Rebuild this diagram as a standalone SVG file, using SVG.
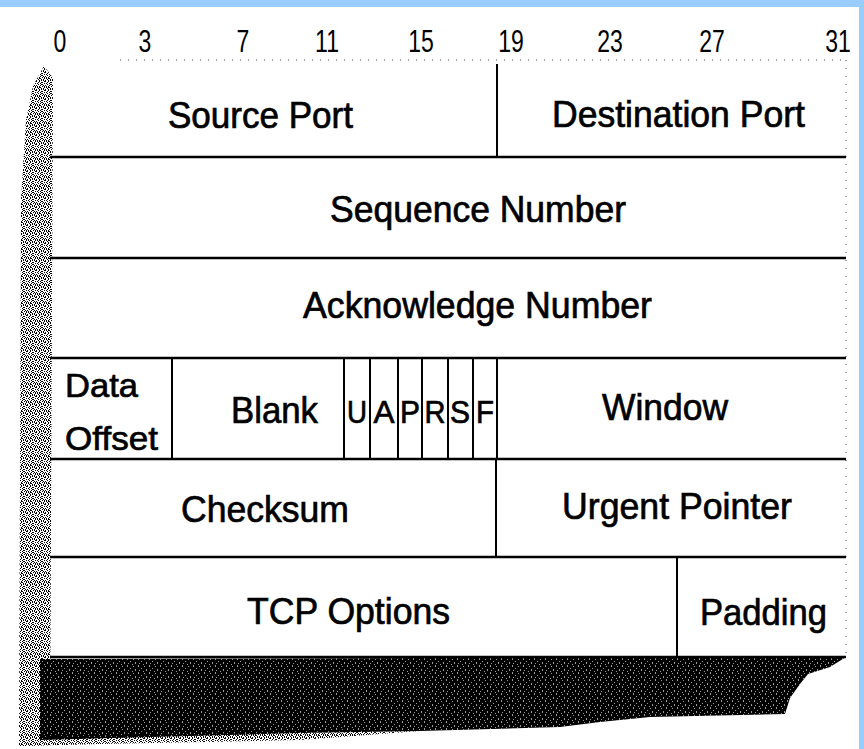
<svg xmlns="http://www.w3.org/2000/svg" width="864" height="749" viewBox="0 0 864 749">
<style>
.lbl{font-family:"Liberation Sans",Arial,sans-serif;font-size:37px;fill:#000;stroke:#000;stroke-width:0.7px}
.flag{font-family:"Liberation Sans",Arial,sans-serif;font-size:31px;fill:#000;stroke:#000;stroke-width:0.7px;text-anchor:middle}
.num{font-family:"Liberation Sans",Arial,sans-serif;font-size:32px;fill:#000;text-anchor:middle}
.ln{stroke:#000;stroke-width:2.5;fill:none}
.vl{stroke:#000;stroke-width:2;fill:none}
</style>
<defs>
<pattern id="stip" width="9" height="9" patternUnits="userSpaceOnUse">
<path fill="#000" d="M0 0h1v1H0zM3 0h1v1H3zM8 0h1v1H8zM6 1h1v1H6zM2 1h1v1H2zM1 2h1v1H1zM4 2h1v1H4zM8 2h1v1H8zM2 3h1v1H2zM5 3h1v1H5zM6 3h1v1H6zM0 4h1v1H0zM4 4h1v1H4zM7 4h1v1H7zM1 5h1v1H1zM3 5h1v1H3zM6 5h1v1H6zM8 5h1v1H8zM1 6h1v1H1zM4 6h1v1H4zM8 6h1v1H8zM2 7h1v1H2zM5 7h1v1H5zM7 7h1v1H7zM0 8h1v1H0zM3 8h1v1H3zM5 8h1v1H5zM7 8h1v1H7zM5 1h1v1H5zM3 6h1v1H3z"/>
</pattern>
<pattern id="speck" width="11" height="7" patternUnits="userSpaceOnUse">
<path fill="#fff" d="M1 1h1v1H1zM6 0h1v2H6zM9 3h1v1H9zM3 4h1v2H3zM7 5h1v1H7zM0 6h1v1H0z"/>
</pattern>
</defs>
<rect width="864" height="749" fill="#fff"/>
<rect x="0" y="0" width="864" height="7" fill="#99ccff"/>
<rect x="859" y="0" width="5" height="749" fill="#99ccff"/>

<g id="bit-numbers">
<text class="num" transform="translate(60,52) scale(0.72,1)">0</text>
<text class="num" transform="translate(145,52) scale(0.72,1)">3</text>
<text class="num" transform="translate(243,52) scale(0.72,1)">7</text>
<text class="num" transform="translate(327,52) scale(0.72,1)">11</text>
<text class="num" transform="translate(421,52) scale(0.72,1)">15</text>
<text class="num" transform="translate(511,52) scale(0.72,1)">19</text>
<text class="num" transform="translate(610,52) scale(0.72,1)">23</text>
<text class="num" transform="translate(712,52) scale(0.72,1)">27</text>
<text class="num" transform="translate(838,52) scale(0.72,1)">31</text>
</g>

<g id="shadow">
<polygon points="44,66 53,78 50,745 19,746 21,200 26,120 33,86" fill="url(#stip)"/>
<polygon points="40,659 846,657 830,667 808,674 800,684 790,698 785,714 650,717 600,722 560,727 420,731 300,733 150,737 40,740" fill="#000"/>
<polygon points="40,659 846,657 830,667 808,674 800,684 790,698 785,714 650,717 600,722 560,727 420,731 300,733 150,737 40,740" fill="url(#speck)" opacity="0.6"/>
<polygon points="20,735 300,733 420,731 300,740 100,744 20,746" fill="url(#stip)"/>
</g>

<g id="grid">
<line x1="120" y1="60" x2="846" y2="60" stroke="#444" stroke-width="1" stroke-dasharray="1 7"/>
<line x1="846" y1="60" x2="846" y2="657" stroke="#444" stroke-width="1" stroke-dasharray="1 7"/>
<line class="ln" x1="50" y1="157" x2="846" y2="157"/>
<line class="ln" x1="50" y1="258" x2="846" y2="258"/>
<line class="ln" x1="50" y1="358" x2="846" y2="358"/>
<line class="ln" x1="50" y1="459" x2="846" y2="459"/>
<line class="ln" x1="50" y1="557" x2="846" y2="557"/>
<line class="ln" x1="50" y1="657" x2="846" y2="657"/>
<line class="vl" x1="497" y1="64" x2="497" y2="157"/>
<line class="vl" x1="172" y1="358" x2="172" y2="459"/>
<line class="vl" x1="344" y1="358" x2="344" y2="459"/>
<line class="vl" x1="370" y1="358" x2="370" y2="459"/>
<line class="vl" x1="398" y1="358" x2="398" y2="459"/>
<line class="vl" x1="422" y1="358" x2="422" y2="459"/>
<line class="vl" x1="448" y1="358" x2="448" y2="459"/>
<line class="vl" x1="473" y1="358" x2="473" y2="459"/>
<line class="vl" x1="497" y1="358" x2="497" y2="459"/>
<line class="vl" x1="496" y1="459" x2="496" y2="557"/>
<line class="vl" x1="677" y1="557" x2="677" y2="657"/>
</g>
<g id="connectors"/>

<g id="source-port"><text class="lbl" x="168" y="128" textLength="185" lengthAdjust="spacingAndGlyphs">Source Port</text></g>
<g id="destination-port"><text class="lbl" x="552" y="127" textLength="253" lengthAdjust="spacingAndGlyphs">Destination Port</text></g>
<g id="sequence-number"><text class="lbl" x="330" y="222" textLength="296" lengthAdjust="spacingAndGlyphs">Sequence Number</text></g>
<g id="acknowledge-number"><text class="lbl" x="303" y="318" textLength="349" lengthAdjust="spacingAndGlyphs">Acknowledge Number</text></g>
<g id="data-offset">
<text class="lbl" x="65" y="397" textLength="73" lengthAdjust="spacingAndGlyphs" style="font-size:34px">Data</text>
<text class="lbl" x="65" y="450" textLength="93" lengthAdjust="spacingAndGlyphs" style="font-size:34px">Offset</text>
</g>
<g id="blank"><text class="lbl" x="231" y="423" textLength="87" lengthAdjust="spacingAndGlyphs">Blank</text></g>
<g id="flag-u"><text class="flag" x="357" y="423" textLength="20" lengthAdjust="spacingAndGlyphs">U</text></g>
<g id="flag-a"><text class="flag" x="384" y="423" textLength="21" lengthAdjust="spacingAndGlyphs">A</text></g>
<g id="flag-p"><text class="flag" x="410" y="423" textLength="20" lengthAdjust="spacingAndGlyphs">P</text></g>
<g id="flag-r"><text class="flag" x="435" y="423" textLength="21" lengthAdjust="spacingAndGlyphs">R</text></g>
<g id="flag-s"><text class="flag" x="460" y="423" textLength="20" lengthAdjust="spacingAndGlyphs">S</text></g>
<g id="flag-f"><text class="flag" x="485" y="423" textLength="18" lengthAdjust="spacingAndGlyphs">F</text></g>
<g id="window"><text class="lbl" x="602" y="420" textLength="126" lengthAdjust="spacingAndGlyphs">Window</text></g>
<g id="checksum"><text class="lbl" x="181" y="522" textLength="168" lengthAdjust="spacingAndGlyphs">Checksum</text></g>
<g id="urgent-pointer"><text class="lbl" x="562" y="519" textLength="230" lengthAdjust="spacingAndGlyphs">Urgent Pointer</text></g>
<g id="tcp-options"><text class="lbl" x="247" y="624" textLength="203" lengthAdjust="spacingAndGlyphs">TCP Options</text></g>
<g id="padding"><text class="lbl" x="700" y="625" textLength="127" lengthAdjust="spacingAndGlyphs">Padding</text></g>
</svg>
